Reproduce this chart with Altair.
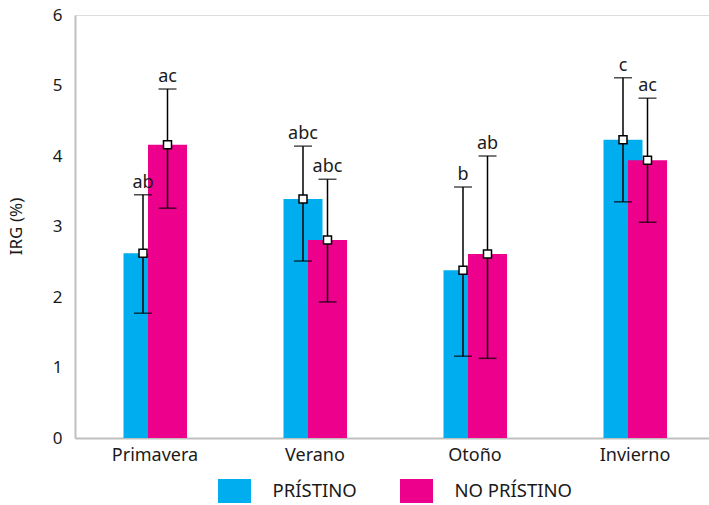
import altair as alt
import pandas as pd

seasons = ["Primavera", "Verano", "Otoño", "Invierno"]
series = ["PRÍSTINO", "NO PRÍSTINO"]
colors = ["#00AEEF", "#EC008C"]

pristino_mean = [2.62, 3.39, 2.38, 4.23]
pristino_upper = [3.45, 4.14, 3.56, 5.11]
pristino_lower = [1.77, 2.51, 1.16, 3.35]
pristino_letters = ["ab", "abc", "b", "c"]

no_pristino_mean = [4.16, 2.81, 2.61, 3.94]
no_pristino_upper = [4.95, 3.67, 4.00, 4.82]
no_pristino_lower = [3.26, 1.93, 1.13, 3.06]
no_pristino_letters = ["ac", "abc", "ab", "ac"]

FONT = "Noto Sans"

rows = []
for i, s in enumerate(seasons):
    rows.append(dict(season=s, serie=series[0], mean=pristino_mean[i],
                     upper=pristino_upper[i], lower=pristino_lower[i], letra=pristino_letters[i]))
    rows.append(dict(season=s, serie=series[1], mean=no_pristino_mean[i],
                     upper=no_pristino_upper[i], lower=no_pristino_lower[i], letra=no_pristino_letters[i]))
df = pd.DataFrame(rows)

xenc = alt.X("season:N", sort=seasons,
             scale=alt.Scale(range=[0, 640], paddingInner=0, paddingOuter=0),
             axis=alt.Axis(title=None, labelAngle=0, labelFontSize=18, labelFont=FONT,
                           labelColor="#1a1a1a", ticks=False, domainColor="#BFBFBF",
                           domainWidth=2, labelPadding=8, grid=False))
yscale = alt.Scale(domain=[0, 6], nice=False)


def layer_for(serie, offset):
    base = alt.Chart(df).transform_filter(alt.datum.serie == serie)
    bar = base.mark_bar(width=39, xOffset=offset).encode(
        x=xenc,
        y=alt.Y("mean:Q", scale=yscale,
                axis=alt.Axis(title="IRG (%)", values=[0, 1, 2, 3, 4, 5, 6], format="d",
                              ticks=False, grid=False, labelFontSize=17, labelFont=FONT,
                              labelColor="#1a1a1a", labelPadding=13, domainColor="#BFBFBF",
                              domainWidth=2, titleX=-50, titleY=211, titleAngle=270,
                              titleAlign="center", titleBaseline="bottom")),
        color=alt.Color("serie:N", scale=alt.Scale(domain=series, range=colors),
                        legend=alt.Legend(title=None, orient="none", direction="horizontal",
                                          legendX=147.5, legendY=464,
                                          symbolType="M-1.375,-1H1.375V1H-1.375Z",
                                          symbolSize=576, symbolStrokeWidth=0,
                                          labelFont=FONT, labelFontSize=18.5, labelColor="#1a1a1a",
                                          labelOffset=26, columnPadding=42, padding=0)),
    )
    rule = base.mark_rule(color="black", strokeWidth=1.5, xOffset=offset).encode(
        x=alt.X("season:N", sort=seasons), y=alt.Y("lower:Q", scale=yscale), y2="upper:Q")
    cap_hi = base.mark_tick(color="black", thickness=1.5, size=18, orient="horizontal",
                            xOffset=offset).encode(
        x=alt.X("season:N", sort=seasons), y=alt.Y("upper:Q", scale=yscale))
    cap_lo = base.mark_tick(color="black", thickness=1.5, size=18, orient="horizontal",
                            xOffset=offset).encode(
        x=alt.X("season:N", sort=seasons), y=alt.Y("lower:Q", scale=yscale))
    pt = base.mark_point(shape="square", filled=True, fill="white", stroke="black",
                         strokeWidth=1.5, size=64, opacity=1, xOffset=offset).encode(
        x=alt.X("season:N", sort=seasons), y=alt.Y("mean:Q", scale=yscale))
    txt = base.mark_text(font=FONT, fontSize=18, color="#1a1a1a", baseline="alphabetic",
                         dy=-7, xOffset=offset).encode(
        x=alt.X("season:N", sort=seasons), y=alt.Y("upper:Q", scale=yscale), text="letra:N")
    return bar, [rule, cap_hi, cap_lo, pt, txt]


b1, o1 = layer_for(series[0], -12)
b2, o2 = layer_for(series[1], 12.5)

chart = alt.layer(b1, b2, *o1, *o2).properties(
    width=634, height=423,
    autosize=alt.AutoSizeParams(type="none"),
    padding={"left": 75, "top": 15, "right": 0, "bottom": 67},
).configure_view(stroke=None).configure(background="white").configure_axisY(
    titleFont=FONT, titleFontSize=17, titleFontWeight="normal", titleColor="#1a1a1a"
)

chart.save("out.html", embed_options={"renderer": "svg", "actions": False})
